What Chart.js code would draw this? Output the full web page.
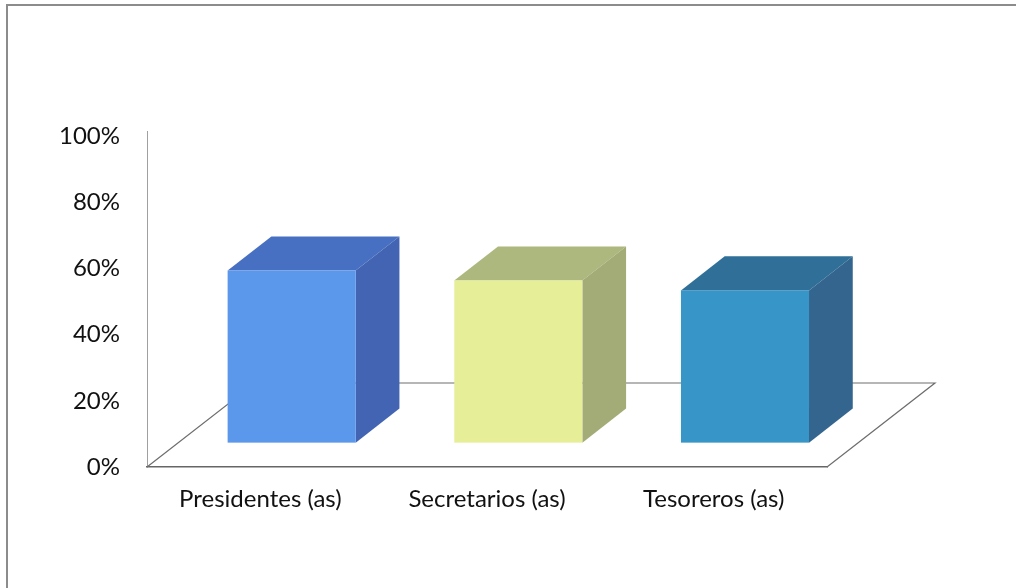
<!DOCTYPE html>
<html>
<head>
<meta charset="utf-8">
<script src="https://cdn.jsdelivr.net/npm/chart.js@4.4.1/dist/chart.umd.min.js"></script>
<style>
  html, body { margin: 0; padding: 0; background: #fff; }
  canvas { display: block; }
</style>
</head>
<body>
<canvas id="chart" width="1016" height="588"></canvas>
<script>
// Categories and shares (fraction of respondents)
const categories = ['Presidentes (as)', 'Secretarios (as)', 'Tesoreros (as)'];
const values = [0.52, 0.49, 0.46];
const tickValues = [0, 0.2, 0.4, 0.6, 0.8, 1];

// Face colours of each 3D column: front, top, right side
const frontColors = ['#5b98ec', '#e6ee98', '#3895c8'];
const topColors   = ['#4870c2', '#adb87e', '#2f6f98'];
const sideColors  = ['#4264b2', '#a3ab77', '#33658e'];

// Oblique projection of the floor depth and where the columns sit within it
const FLOOR_DX = 108, FLOOR_DY = -84;
const BAR_FRONT = 0.29, BAR_BACK = 0.695;

function poly(ctx, pts, color) {
  ctx.beginPath();
  ctx.moveTo(pts[0][0], pts[0][1]);
  for (let k = 1; k < pts.length; k++) ctx.lineTo(pts[k][0], pts[k][1]);
  ctx.closePath();
  ctx.fillStyle = color;
  ctx.fill();
}

const frame = {
  id: 'frame',
  beforeDraw(chart) {
    const { ctx, width, height } = chart;
    ctx.save();
    ctx.fillStyle = '#ffffff';
    ctx.fillRect(0, 0, width, height);
    ctx.strokeStyle = '#8c8c8c';
    ctx.lineWidth = 2;
    ctx.beginPath();
    ctx.moveTo(7, height + 2);
    ctx.lineTo(7, 5);
    ctx.lineTo(width + 2, 5);
    ctx.stroke();
    ctx.restore();
  }
};

const box3d = {
  id: 'box3d',
  beforeDatasetsDraw(chart) {
    const { ctx, chartArea: a } = chart;
    ctx.save();
    // floor outline (front edge is the category axis line)
    ctx.strokeStyle = '#6e6e6e';
    ctx.lineWidth = 1.2;
    ctx.beginPath();
    ctx.moveTo(a.left, a.bottom);
    ctx.lineTo(a.left + FLOOR_DX, a.bottom + FLOOR_DY);
    ctx.lineTo(a.right + FLOOR_DX, a.bottom + FLOOR_DY);
    ctx.lineTo(a.right, a.bottom);
    ctx.stroke();
    // value axis runs slightly past its top tick
    ctx.strokeStyle = '#a0a0a0';
    ctx.lineWidth = 1;
    ctx.beginPath();
    ctx.moveTo(a.left + 0.5, a.top);
    ctx.lineTo(a.left + 0.5, a.top - 5);
    ctx.stroke();
    ctx.restore();
  },
  afterDatasetsDraw(chart) {
    const { ctx } = chart;
    const meta = chart.getDatasetMeta(0);
    const fx = FLOOR_DX * BAR_FRONT, fy = FLOOR_DY * BAR_FRONT;
    const dx = FLOOR_DX * (BAR_BACK - BAR_FRONT), dy = FLOOR_DY * (BAR_BACK - BAR_FRONT);
    ctx.save();
    meta.data.forEach((bar, i) => {
      const { x, y, base, width } = bar.getProps(['x', 'y', 'base', 'width'], true);
      const l = x - width / 2 + fx, r = x + width / 2 + fx;
      const t = y + fy, b = base + fy;
      poly(ctx, [[l, t], [l + dx, t + dy], [r + dx, t + dy], [r, t]], topColors[i]);
      poly(ctx, [[r, t], [r + dx, t + dy], [r + dx, b + dy], [r, b]], sideColors[i]);
      ctx.fillStyle = frontColors[i];
      ctx.fillRect(l, t, r - l, b - t);
    });
    ctx.restore();
  }
};

const font = { family: 'Lato', size: 24 };

new Chart(document.getElementById('chart'), {
  type: 'bar',
  data: {
    labels: categories,
    datasets: [{
      data: values,
      backgroundColor: 'rgba(0,0,0,0)',
      borderWidth: 0,
      categoryPercentage: 1,
      barPercentage: 0.565
    }]
  },
  options: {
    responsive: false,
    animation: false,
    layout: { padding: { top: 136, right: 189, bottom: 41, left: 0 } },
    plugins: { legend: { display: false }, tooltip: { enabled: false } },
    scales: {
      x: {
        grid: { display: false, drawTicks: false },
        border: { display: true, color: '#666666', width: 1.5 },
        ticks: { padding: 18, color: '#111111', font },
        afterFit(s) { s.height = 80; }
      },
      y: {
        min: 0,
        max: 1,
        afterBuildTicks(s) { s.ticks = tickValues.map(v => ({ value: v })); },
        grid: { display: false, drawTicks: false },
        border: { display: true, color: '#a0a0a0', width: 1 },
        ticks: {
          padding: 27,
          color: '#111111',
          font,
          callback: v => Math.round(v * 100) + '%'
        },
        afterFit(s) { s.width = 147; }
      }
    }
  },
  plugins: [frame, box3d]
});
</script>
</body>
</html>
